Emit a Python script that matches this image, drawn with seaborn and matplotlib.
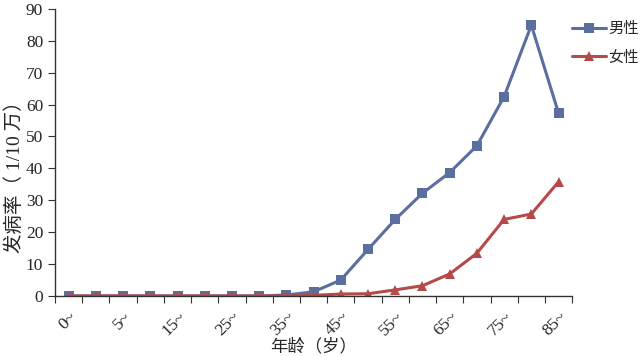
import numpy as np
import pandas as pd
import seaborn as sns
import matplotlib.pyplot as plt

# age groups and incidence (per 100k)
age_groups = ['0~', '1~', '5~', '10~', '15~', '20~', '25~', '30~', '35~', '40~',
              '45~', '50~', '55~', '60~', '65~', '70~', '75~', '80~', '85~']
male = [0, 0, 0, 0, 0, 0, 0, 0, 0.3, 1.3, 5.0, 14.6, 24.0, 32.2, 38.7, 47.1, 62.5, 84.9, 57.3]
female = [0, 0, 0, 0, 0, 0, 0, 0, 0, 0.2, 0.6, 0.7, 1.9, 3.2, 6.9, 13.4, 24.0, 25.7, 35.8]
series_names = ['男性', '女性']

df = pd.DataFrame({
    'idx': list(range(len(age_groups))) * 2,
    'rate': male + female,
    'sex': [series_names[0]] * len(age_groups) + [series_names[1]] * len(age_groups),
})

sns.set_style('ticks')
plt.rcParams['font.family'] = ['Liberation Serif', 'Noto Sans CJK SC']
plt.rcParams['axes.unicode_minus'] = False

fig = plt.figure(figsize=(6.4, 3.57), dpi=100)
ax = fig.add_axes([0.086, 0.171, 0.808, 0.804])

palette = {'男性': '#5a6e9f', '女性': '#b64a4b'}
sns.lineplot(data=df, x='idx', y='rate', hue='sex', style='sex',
             markers={'男性': 's', '女性': '^'}, dashes=False,
             palette=palette, linewidth=2.2, markersize=7.5,
             markeredgewidth=0, ax=ax)

ax.set_xlim(-0.5, len(age_groups) - 0.5)
ax.set_ylim(0, 90)
ax.set_yticks(range(0, 91, 10))

# tick marks at category boundaries, labels every other category
ax.set_xticks(np.arange(-0.5, len(age_groups), 1))
ax.set_xticklabels([])
lab_pos = list(range(0, len(age_groups), 2))
ax.set_xticks(lab_pos, minor=True)
ax.set_xticklabels([age_groups[i] for i in lab_pos], minor=True,
                   rotation=45, ha='right', va='top', rotation_mode='anchor')
ax.tick_params(axis='x', which='major', length=5, direction='out', color='#333333')
ax.tick_params(axis='x', which='minor', length=0, pad=9, labelsize=12.5)
ax.tick_params(axis='y', length=5, direction='out', labelsize=12.5, color='#333333')

for s in ['top', 'right']:
    ax.spines[s].set_visible(False)
for s in ['left', 'bottom']:
    ax.spines[s].set_color('#333333')
    ax.spines[s].set_linewidth(1.0)

ax.set_xlabel('年龄（岁）', fontsize=12.5, labelpad=0)
ax.set_ylabel('发病率（ 1/10 万）', fontsize=14)
ax.yaxis.set_label_coords(-0.06, 0.43)

ax.legend(title=None, frameon=False, loc='upper left',
          bbox_to_anchor=(1.0, 0.955), fontsize=11, handlelength=2.2,
          labelspacing=0.95, handletextpad=0.15, borderaxespad=0, borderpad=0)

fig.savefig('out.png', dpi=100)
